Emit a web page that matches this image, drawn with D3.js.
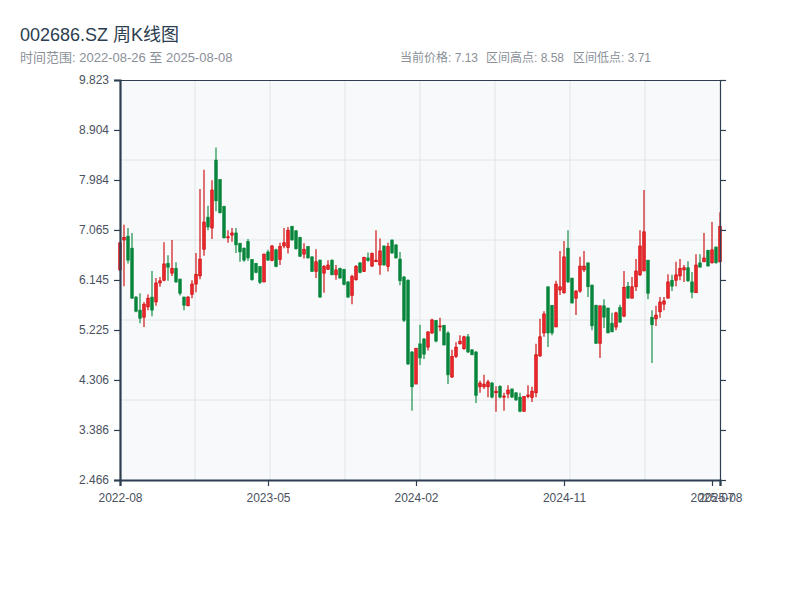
<!DOCTYPE html>
<html>
<head>
<meta charset="utf-8">
<title>002686.SZ 周K线图</title>
<script src="https://cdnjs.cloudflare.com/ajax/libs/d3/7.8.5/d3.min.js"></script>
<style>
  body { margin: 0; background: #fff; }
  svg text { font-family: "Liberation Sans", Arial, "Noto Sans CJK SC", sans-serif; }
</style>
</head>
<body>
<div id="chart"></div>
<script>
// weekly bars (holiday weeks are missing)
var dates = [
  "2022-08-26","2022-09-02","2022-09-09","2022-09-16","2022-09-23","2022-09-30","2022-10-14","2022-10-21","2022-10-28","2022-11-04",
  "2022-11-11","2022-11-18","2022-11-25","2022-12-02","2022-12-09","2022-12-16","2022-12-23","2022-12-30","2023-01-06","2023-01-13",
  "2023-01-20","2023-02-03","2023-02-10","2023-02-17","2023-02-24","2023-03-03","2023-03-10","2023-03-17","2023-03-24","2023-03-31",
  "2023-04-07","2023-04-14","2023-04-21","2023-04-28","2023-05-05","2023-05-12","2023-05-19","2023-05-26","2023-06-02","2023-06-09",
  "2023-06-16","2023-06-21","2023-06-30","2023-07-07","2023-07-14","2023-07-21","2023-07-28","2023-08-04","2023-08-11","2023-08-18",
  "2023-08-25","2023-09-01","2023-09-08","2023-09-15","2023-09-22","2023-09-28","2023-10-13","2023-10-20","2023-10-27","2023-11-03",
  "2023-11-10","2023-11-17","2023-11-24","2023-12-01","2023-12-08","2023-12-15","2023-12-22","2023-12-29","2024-01-05","2024-01-12",
  "2024-01-19","2024-01-26","2024-02-02","2024-02-08","2024-02-23","2024-03-01","2024-03-08","2024-03-15","2024-03-22","2024-03-29",
  "2024-04-03","2024-04-12","2024-04-19","2024-04-26","2024-04-30","2024-05-10","2024-05-17","2024-05-24","2024-05-31","2024-06-07",
  "2024-06-14","2024-06-21","2024-06-28","2024-07-05","2024-07-12","2024-07-19","2024-07-26","2024-08-02","2024-08-09","2024-08-16",
  "2024-08-23","2024-08-30","2024-09-06","2024-09-13","2024-09-20","2024-09-27","2024-09-30","2024-10-11","2024-10-18","2024-10-25",
  "2024-11-01","2024-11-08","2024-11-15","2024-11-22","2024-11-29","2024-12-06","2024-12-13","2024-12-20","2024-12-27","2025-01-03",
  "2025-01-10","2025-01-17","2025-01-24","2025-01-27","2025-02-07","2025-02-14","2025-02-21","2025-02-28","2025-03-07","2025-03-14",
  "2025-03-21","2025-03-28","2025-04-03","2025-04-11","2025-04-18","2025-04-25","2025-04-30","2025-05-09","2025-05-16","2025-05-23",
  "2025-05-30","2025-06-06","2025-06-13","2025-06-20","2025-06-27","2025-07-04","2025-07-11","2025-07-18","2025-07-25","2025-08-01",
  "2025-08-08"
];
var open = [
  6.33,6.88,6.95,6.73,5.83,5.59,5.46,5.65,5.83,5.74,
  6.09,6.14,6.45,6.27,6.36,6.16,5.83,5.67,5.88,6.07,
  6.22,6.71,7.30,7.10,8.35,7.99,7.50,6.92,6.97,7.01,
  6.82,6.73,6.85,6.52,6.45,6.39,6.11,6.66,6.50,6.70,
  6.52,6.77,6.74,7.13,7.05,6.93,6.62,6.76,6.57,6.30,
  6.51,6.27,6.34,6.51,6.24,6.36,6.34,6.11,5.86,6.15,
  6.46,6.30,6.55,6.40,6.48,6.42,6.77,6.39,6.88,6.79,
  6.53,6.20,6.14,4.82,4.23,4.97,5.06,4.91,5.17,5.40,
  5.28,5.31,5.17,4.36,4.74,4.97,4.88,5.10,4.86,4.82,
  4.18,4.18,4.18,4.25,4.07,4.19,3.99,4.05,4.14,4.07,
  3.99,3.73,4.00,3.98,4.07,4.75,5.17,6.02,5.68,5.28,
  5.96,5.91,6.73,6.18,5.81,5.94,6.33,6.46,6.05,5.68,
  4.98,5.67,5.63,5.35,5.28,5.64,5.48,6.03,5.81,6.02,
  6.24,6.31,6.51,5.46,5.43,5.56,5.70,5.81,6.14,6.14,
  6.22,6.33,6.37,6.11,5.91,6.46,6.48,6.69,6.46,6.75,
  6.48
];
var high = [
  6.84,7.16,7.10,7.01,5.85,5.90,5.74,5.88,6.31,6.18,
  6.20,6.84,6.60,6.88,6.47,6.17,5.84,5.85,6.14,6.64,
  7.82,8.17,7.51,7.98,8.58,8.00,7.51,7.06,7.10,7.10,
  6.83,6.74,6.90,6.53,6.46,6.40,6.63,6.70,6.79,6.72,
  6.83,7.10,7.12,7.14,7.06,6.94,6.82,6.77,6.58,6.71,
  6.52,6.42,6.51,6.52,6.42,6.37,6.35,6.12,6.24,6.42,
  6.47,6.57,6.65,6.65,7.06,6.91,6.78,6.83,6.89,6.80,
  6.66,6.22,6.16,4.84,4.89,5.32,5.08,5.20,5.43,5.41,
  5.45,5.32,5.20,4.86,5.00,5.13,5.12,5.15,4.87,4.84,
  4.29,4.40,4.31,4.27,4.19,4.21,4.07,4.21,4.15,4.08,
  4.07,4.01,4.21,4.18,4.97,5.43,5.57,6.02,5.68,6.13,
  6.68,6.86,7.06,6.18,5.96,6.57,6.68,6.46,6.06,5.69,
  5.67,5.79,5.63,5.54,5.56,5.69,6.31,6.11,6.20,6.53,
  7.06,7.80,6.51,5.59,5.67,5.83,5.83,6.25,6.24,6.48,
  6.53,6.42,6.49,6.29,6.62,6.62,7.01,6.70,7.21,6.76,
  7.39
];
var low = [
  6.31,6.03,6.45,5.80,5.55,5.35,5.28,5.59,5.48,5.67,
  6.02,6.12,6.13,6.22,6.09,5.86,5.59,5.66,5.81,5.92,
  6.16,6.59,7.06,6.90,7.41,7.37,6.91,6.83,6.85,6.64,
  6.48,6.48,6.50,6.13,6.27,6.07,6.10,6.50,6.49,6.38,
  6.42,6.73,6.63,6.87,6.70,6.57,6.54,6.54,6.29,6.18,
  5.82,5.91,6.33,6.23,6.15,6.17,6.05,5.82,5.70,6.13,
  6.27,6.29,6.48,6.39,6.48,6.24,6.41,6.30,6.63,6.54,
  6.05,5.37,4.58,3.74,4.23,4.58,4.69,4.85,5.15,5.00,
  5.20,4.94,4.23,4.34,4.71,4.96,4.86,4.80,4.76,3.88,
  4.07,4.14,3.99,3.97,3.72,3.97,3.74,3.97,3.98,3.92,
  3.71,3.72,3.97,3.90,3.99,4.73,5.10,4.91,5.13,5.28,
  5.87,5.89,6.09,5.72,5.50,5.91,6.29,5.83,5.22,4.97,
  4.71,5.26,5.17,5.19,5.22,5.36,5.46,5.81,5.81,5.94,
  6.22,6.31,5.79,4.62,5.30,5.45,5.59,5.81,5.94,6.03,
  6.14,6.11,6.11,5.81,5.91,6.38,6.47,6.40,6.45,6.45,
  6.46
];
var close = [
  6.83,6.93,6.51,5.81,5.57,5.44,5.70,5.81,5.59,6.09,
  6.13,6.44,6.38,6.36,6.11,5.90,5.68,5.83,6.07,6.25,
  6.53,7.21,7.12,7.80,7.60,7.38,6.92,6.94,7.01,6.79,
  6.66,6.51,6.55,6.15,6.28,6.10,6.62,6.51,6.77,6.39,
  6.76,6.83,7.06,6.88,6.72,6.58,6.71,6.55,6.30,6.48,
  5.83,6.39,6.42,6.24,6.33,6.18,6.06,5.83,6.21,6.39,
  6.28,6.56,6.50,6.63,6.51,6.68,6.42,6.76,6.64,6.55,
  6.13,5.40,4.60,4.18,4.89,4.71,4.78,5.19,5.41,5.02,
  5.30,4.95,4.40,4.74,4.91,5.02,5.10,4.82,4.77,4.02,
  4.25,4.23,4.27,3.99,4.10,3.99,4.01,4.12,3.99,3.94,
  3.73,4.00,4.03,4.10,4.77,5.10,5.52,5.17,5.17,6.07,
  6.02,6.57,6.11,5.72,5.94,6.40,6.40,6.02,5.30,4.98,
  5.67,5.46,5.17,5.19,5.54,5.37,6.01,5.81,6.02,6.31,
  6.77,7.03,5.90,5.32,5.50,5.74,5.76,6.11,6.03,6.24,
  6.36,6.37,6.13,5.92,6.42,6.38,6.55,6.40,6.70,6.46,
  7.13
];
var yTicks = [2.466, 3.386, 4.306, 5.225, 6.145, 7.065, 7.984, 8.904, 9.823];
var xTickIdx = [0, 37, 74, 111, 148, 150];

var margin = {top: 80, right: 80, bottom: 120, left: 120};
var w = 800 - margin.left - margin.right, h = 600 - margin.top - margin.bottom;
var axisColor = "#2c3e50", upColor = "#cc0000", upFill = "#e8262b", downColor = "#07853a";

var svg = d3.select("#chart").append("svg")
    .attr("width", 800)
    .attr("height", 600);

var x = d3.scaleLinear().domain([0, dates.length - 1]).range([margin.left, margin.left + w]);
var y = d3.scaleLinear().domain([yTicks[0], yTicks[yTicks.length - 1]]).range([margin.top + h, margin.top]);

// plot background + grid
svg.append("rect")
    .attr("x", margin.left).attr("y", margin.top)
    .attr("width", w).attr("height", h)
    .attr("fill", "#f7f9fb");

var gx = d3.scaleLinear().domain([0, 8]).range([margin.left, margin.left + w]);
var gy = d3.scaleLinear().domain([0, 5]).range([margin.top, margin.top + h]);
svg.append("g").selectAll("line").data(d3.range(1, 8)).enter().append("line")
    .attr("x1", gx).attr("x2", gx)
    .attr("y1", margin.top).attr("y2", margin.top + h)
    .attr("stroke", "#e2e6ea").attr("stroke-width", 1);
svg.append("g").selectAll("line").data(d3.range(1, 5)).enter().append("line")
    .attr("y1", gy).attr("y2", gy)
    .attr("x1", margin.left).attr("x2", margin.left + w)
    .attr("stroke", "#e2e6ea").attr("stroke-width", 1);

// candles
var bars = d3.range(dates.length).map(function(i) {
    return {i: i, o: open[i], h: high[i], l: low[i], c: close[i], up: close[i] >= open[i]};
});
var bodyW = 2.6;
var candle = svg.append("g").selectAll("g").data(bars).enter().append("g");
candle.append("line")
    .attr("x1", function(d) { return x(d.i); })
    .attr("x2", function(d) { return x(d.i); })
    .attr("y1", function(d) { return y(d.h); })
    .attr("y2", function(d) { return y(d.l); })
    .attr("stroke", function(d) { return d.up ? upColor : downColor; })
    .attr("stroke-width", 1.1);
candle.append("rect")
    .attr("x", function(d) { return x(d.i) - bodyW / 2; })
    .attr("y", function(d) { return y(Math.max(d.o, d.c)); })
    .attr("width", bodyW)
    .attr("height", function(d) { return Math.max(1, Math.abs(y(d.o) - y(d.c))); })
    .attr("fill", function(d) { return d.up ? upFill : downColor; })
    .attr("stroke", function(d) { return d.up ? upColor : downColor; })
    .attr("stroke-width", 0.6);

// axes
function styleAxis(g, sw) {
    g.select(".domain").attr("stroke", axisColor).attr("stroke-width", sw);
    g.selectAll(".tick line").attr("stroke", axisColor).attr("stroke-width", 1.2);
    g.selectAll(".tick text").attr("fill", "#4a5160").attr("font-size", 12);
}
svg.append("line")
    .attr("x1", margin.left).attr("x2", margin.left + w)
    .attr("y1", margin.top + 0.5).attr("y2", margin.top + 0.5)
    .attr("stroke", axisColor).attr("stroke-width", 1);

svg.append("g")
    .attr("transform", "translate(" + (margin.left + w) + ",0)")
    .call(d3.axisRight(y).tickValues(yTicks).tickFormat(""))
    .call(styleAxis, 1.2);

svg.append("g")
    .attr("transform", "translate(" + margin.left + ",0)")
    .call(d3.axisLeft(y).tickValues(yTicks).tickPadding(5).tickFormat(function(d) { return d.toFixed(3); }))
    .call(styleAxis, 2.2);

svg.append("g")
    .attr("transform", "translate(0," + (margin.top + h) + ")")
    .call(d3.axisBottom(x).tickValues(xTickIdx).tickPadding(7).tickFormat(function(i) { return dates[i].slice(0, 7); }))
    .call(styleAxis, 2.2);

// header
svg.append("text")
    .attr("x", 20).attr("y", 41)
    .attr("font-size", 18).attr("fill", axisColor)
    .text("002686.SZ 周K线图");
svg.append("text")
    .attr("x", 20).attr("y", 62)
    .attr("font-size", 13).attr("fill", "#8a8f98")
    .text("时间范围: " + dates[0] + " 至 " + dates[dates.length - 1]);

var stats = [
    ["当前价格: ", close[close.length - 1]],
    ["区间高点: ", d3.max(high)],
    ["区间低点: ", d3.min(low)]
];
var statX = [400, 486, 573];
svg.append("g").selectAll("text").data(stats).enter().append("text")
    .attr("x", function(d, k) { return statX[k]; })
    .attr("y", 62)
    .attr("font-size", 12).attr("fill", "#8a8f98")
    .text(function(d) { return d[0] + d[1].toFixed(2); });
</script>
</body>
</html>
